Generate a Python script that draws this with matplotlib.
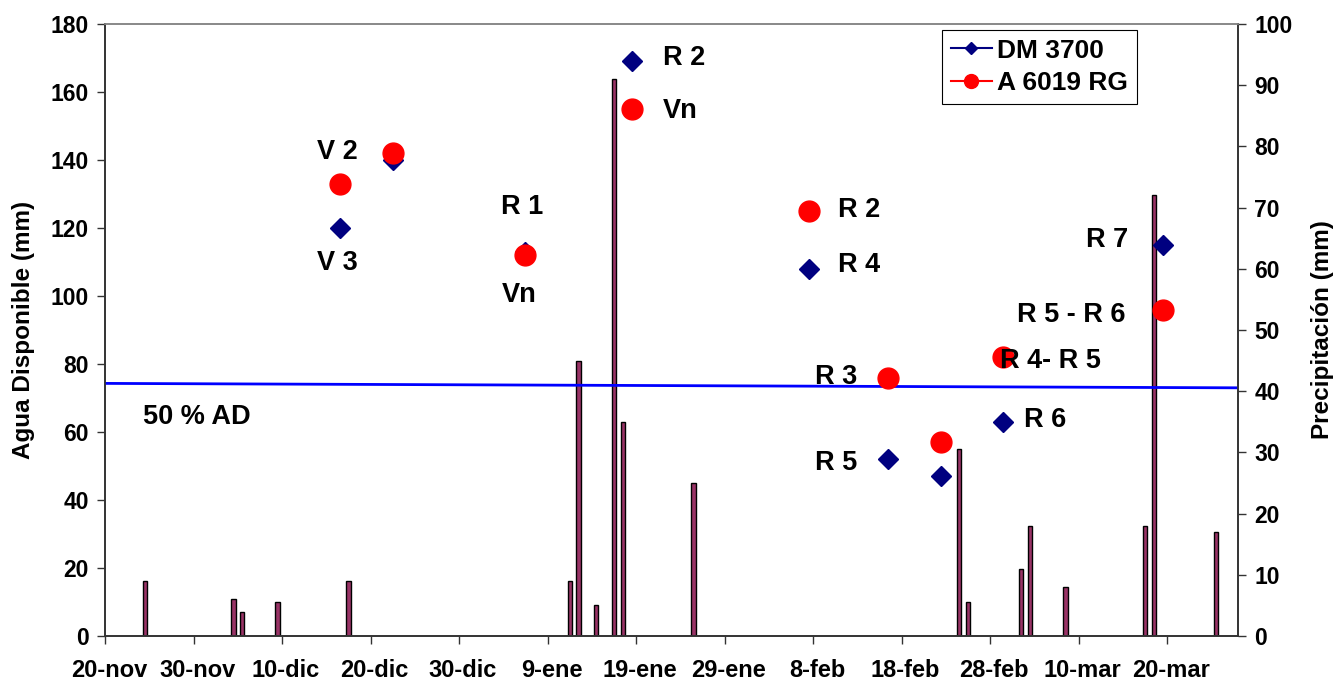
import numpy as np
import matplotlib
matplotlib.use('Agg')
import matplotlib.pyplot as plt
import matplotlib.transforms as mtransforms
from matplotlib.lines import Line2D

plt.rcParams['font.family'] = ['Liberation Sans', 'DejaVu Sans']
plt.rcParams['font.weight'] = 'bold'

# precipitacion diaria (mm)
rain_dates = ['2005-11-24', '2005-12-04', '2005-12-05', '2005-12-09', '2005-12-17',
              '2006-01-11', '2006-01-12', '2006-01-14', '2006-01-16', '2006-01-17',
              '2006-01-25', '2006-02-24', '2006-02-25', '2006-03-03', '2006-03-04',
              '2006-03-08', '2006-03-17', '2006-03-18', '2006-03-25']
rain_mm = [9, 6, 4, 5.5, 9, 9, 45, 5, 91, 35, 25, 30.5, 5.5, 11, 18, 8, 18, 72, 17]

# agua disponible medida en cada cultivar (mm)
obs_dates = ['2005-12-16', '2005-12-22', '2006-01-06', '2006-01-18', '2006-02-07',
             '2006-02-16', '2006-02-22', '2006-03-01', '2006-03-19']
dm3700 = [120, 140, 113, 169, 108, 52, 47, 63, 115]
a6019 = [133, 142, 112, 155, 125, 76, 57, 82, 96]

# umbral de 50 % de agua disponible
ad50_dates = ['2005-11-20', '2006-03-28']
ad50_mm = [74.3, 73.0]

tick_dates = ['2005-11-20', '2005-11-30', '2005-12-10', '2005-12-20', '2005-12-30',
              '2006-01-09', '2006-01-19', '2006-01-29', '2006-02-08', '2006-02-18',
              '2006-02-28', '2006-03-10', '2006-03-20']
tick_labels = ['20-nov', '30-nov', '10-dic', '20-dic', '30-dic', '9-ene', '19-ene',
               '29-ene', '8-feb', '18-feb', '28-feb', '10-mar', '20-mar']

# etiquetas de estado fenologico: texto, dias desde 20-nov, mm, alineacion
stages = [('V 2', 26.3, 140.3, 'center'), ('V 3', 26.3, 107.6, 'center'),
          ('R 1', 47.2, 124.1, 'center'), ('Vn', 46.8, 98.3, 'center'),
          ('R 2', 63.0, 167.9, 'left'), ('Vn', 63.0, 152.4, 'left'),
          ('R 2', 82.8, 123.2, 'left'), ('R 4', 82.8, 107.1, 'left'),
          ('R 3', 80.2, 74.1, 'left'), ('R 5', 80.2, 48.8, 'left'),
          ('R 6', 103.9, 61.5, 'left'), ('R 4- R 5', 101.1, 78.8, 'left'),
          ('R 5 - R 6', 103.0, 92.4, 'left'), ('R 7', 110.9, 114.4, 'left'),
          ('50 % AD', 4.3, 62.4, 'left')]

start = np.datetime64('2005-11-20')
end = np.datetime64('2006-03-28')
half_day = np.timedelta64(12, 'h')

rain_x = np.array(rain_dates, dtype='datetime64[h]') + half_day
obs_x = np.array(obs_dates, dtype='datetime64[h]') + half_day

fig = plt.figure(figsize=(13.35, 6.82), dpi=100)
ax = fig.add_subplot(111)
ax2 = ax.twinx()
fig.subplots_adjust(left=0.0787, right=0.9273, bottom=0.0674, top=0.9648)

ax2.bar(rain_x, rain_mm, width=0.5, color='#993366', edgecolor='black', linewidth=1)
ax2.set_ylim(0, 100)
ax2.set_yticks(np.arange(0, 101, 10))

ax.set_zorder(ax2.get_zorder() + 1)
ax.patch.set_visible(False)

ax.plot(np.array(ad50_dates, dtype='datetime64[h]'), ad50_mm, color='#0000FF', lw=2)
ax.plot(obs_x, dm3700, ls='none', marker='D', ms=10.5, color='#000080', mec='#000080')
ax.plot(obs_x, a6019, ls='none', marker='o', ms=15, color='#FF0000', mec='#FF0000')

for txt, d, y, ha in stages:
    ax.text(start + np.timedelta64(int(d * 24), 'h'), y, txt, ha=ha, va='baseline',
            fontsize=19.5, fontweight='bold')

ax.set_xlim(start, end)
ax.set_ylim(0, 180)
ax.set_yticks(np.arange(0, 181, 20))
ax.set_xticks(np.array(tick_dates, dtype='datetime64[D]'))
ax.set_xticklabels(tick_labels)

for a in (ax, ax2):
    for s in ('left', 'right', 'bottom'):
        a.spines[s].set_color('#333333')
        a.spines[s].set_linewidth(1.2)
    a.spines['top'].set_color('#888888')
    a.spines['top'].set_linewidth(1.2)
    a.tick_params(axis='both', direction='out', length=5.8, width=1, colors='#333333',
                  labelcolor='black', labelsize=16.5, pad=6)
ax.tick_params(axis='x', pad=10.5, labelsize=17)

# etiquetas de fecha un poco corridas a la derecha
shift = mtransforms.ScaledTranslation(0.04, 0, fig.dpi_scale_trans)
for lbl in ax.get_xticklabels():
    lbl.set_transform(lbl.get_transform() + shift)

ax.set_ylabel('Agua Disponible (mm)', fontsize=17.5, fontweight='bold')
ax.yaxis.set_label_coords(-0.062, 0.5)
ax2.set_ylabel('Precipitación (mm)', fontsize=17.5, fontweight='bold')
ax2.yaxis.set_label_coords(1.0644, 0.5)

handles = [Line2D([0], [0], color='#000080', marker='D', ms=6, lw=1.5),
           Line2D([0], [0], color='#FF0000', marker='o', ms=10, lw=1.5)]
leg = ax.legend(handles, ['DM 3700', 'A 6019 RG'], loc='upper left',
                bbox_to_anchor=(942 / 1335, 1 - 30 / 682), bbox_transform=fig.transFigure,
                borderaxespad=0, fancybox=False, edgecolor='black', framealpha=1,
                prop={'size': 19, 'weight': 'bold'}, handlelength=1.55,
                handletextpad=0.22, labelspacing=0.33, borderpad=0.33)
leg.get_frame().set_linewidth(0.8)

plt.savefig('out.png', dpi=100)
